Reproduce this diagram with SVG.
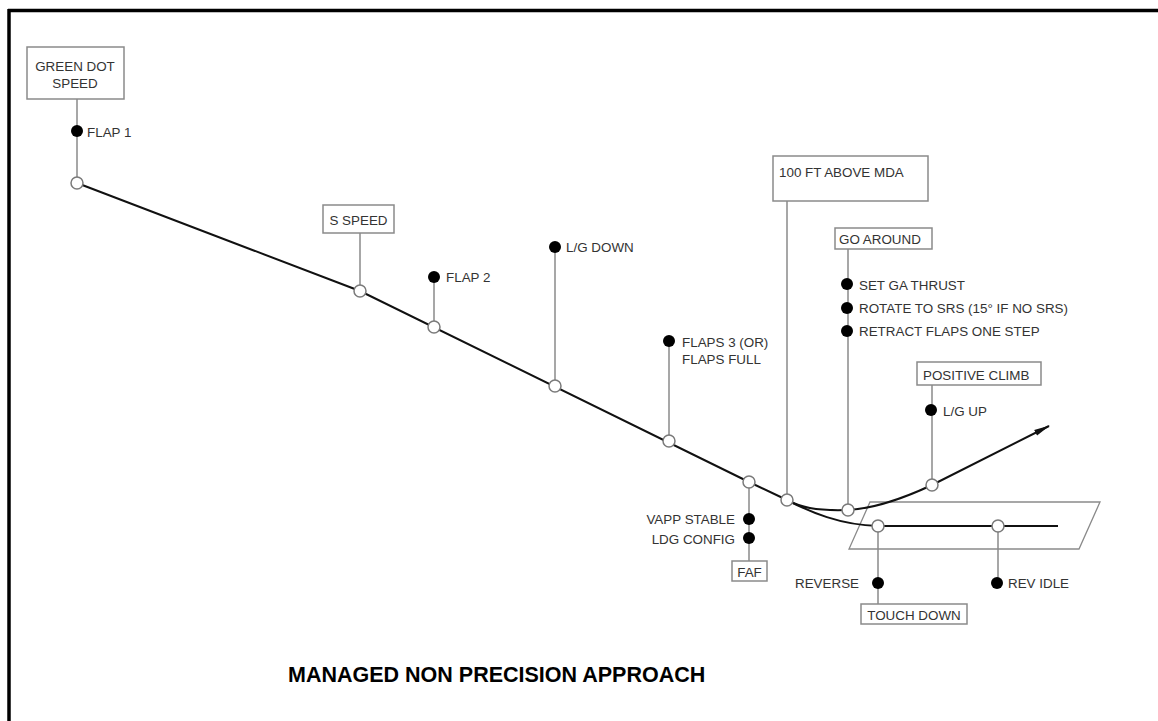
<svg xmlns="http://www.w3.org/2000/svg" width="1158" height="721" viewBox="0 0 1158 721">
<style>
  .t{font-family:"Liberation Sans",Arial,sans-serif;font-size:13.4px;fill:#333}
  .box{fill:#fff;stroke:#8a8a8a;stroke-width:1.5}
  .stem{stroke:#8a8a8a;stroke-width:1.5;fill:none}
  .dot{fill:#000}
  .node{fill:#fff;stroke:#7a7a7a;stroke-width:1.5}
  .path{stroke:#111;stroke-width:2;fill:none}
</style>
<defs>
  <marker id="arr" viewBox="0 0 16 8" refX="15" refY="4" markerWidth="16" markerHeight="8" markerUnits="userSpaceOnUse" orient="auto">
    <path d="M0,0.8 L16,4 L0,7.2 Z" fill="#111"/>
  </marker>
</defs>
<rect width="1158" height="721" fill="#fff"/>
<g id="frame">
  <line x1="8" y1="10.5" x2="1158" y2="10.5" stroke="#000" stroke-width="3.5"/>
  <line x1="9" y1="9" x2="9" y2="721" stroke="#000" stroke-width="3.5"/>
</g>
<g id="runway">
  <polygon points="870,502 1100,502 1079,549 849,549" fill="none" stroke="#8a8a8a" stroke-width="1.3"/>
</g>
<g id="connectors">
  <path class="path" d="M77,183 L360,291 L749,482 L787,500 C800,507 815,511 847,510 C870,509 900,500 932,485 L1049,426" marker-end="url(#arr)"/>
  <path class="path" d="M787,500 C810,512 840,525 878,526 L1058,526"/>
  <line class="stem" x1="77" y1="99" x2="77" y2="183"/>
  <line class="stem" x1="360" y1="233" x2="360" y2="291"/>
  <line class="stem" x1="434" y1="277" x2="434" y2="327"/>
  <line class="stem" x1="555" y1="247" x2="555" y2="386"/>
  <line class="stem" x1="669" y1="341" x2="669" y2="441"/>
  <line class="stem" x1="749" y1="482" x2="749" y2="561"/>
  <line class="stem" x1="787" y1="201" x2="787" y2="500"/>
  <line class="stem" x1="848" y1="249" x2="848" y2="510"/>
  <line class="stem" x1="932" y1="385" x2="932" y2="485"/>
  <line class="stem" x1="878" y1="526" x2="878" y2="604"/>
  <line class="stem" x1="998" y1="526" x2="998" y2="583"/>
</g>
<g id="green-dot">
  <rect class="box" x="27" y="47" width="97" height="52"/>
  <text class="t" x="75" y="70.5" text-anchor="middle">GREEN DOT</text>
  <text class="t" x="75" y="88" text-anchor="middle">SPEED</text>
  <circle class="dot" cx="77" cy="131" r="6"/>
  <text class="t" x="87" y="136.5">FLAP 1</text>
  <circle class="node" cx="77" cy="183" r="6"/>
</g>
<g id="s-speed">
  <rect class="box" x="323" y="205" width="71" height="28"/>
  <text class="t" x="358.5" y="224.5" text-anchor="middle">S SPEED</text>
  <circle class="node" cx="360" cy="291" r="6"/>
</g>
<g id="flap2">
  <circle class="dot" cx="434" cy="277" r="6"/>
  <text class="t" x="446" y="282">FLAP 2</text>
  <circle class="node" cx="434" cy="327" r="6"/>
</g>
<g id="lg-down">
  <circle class="dot" cx="555" cy="247" r="6"/>
  <text class="t" x="566" y="252">L/G DOWN</text>
  <circle class="node" cx="555" cy="386" r="6"/>
</g>
<g id="flaps3">
  <circle class="dot" cx="669" cy="341" r="6"/>
  <text class="t" x="682" y="347">FLAPS 3 (OR)</text>
  <text class="t" x="682" y="364">FLAPS FULL</text>
  <circle class="node" cx="669" cy="441" r="6"/>
</g>
<g id="faf">
  <circle class="node" cx="749" cy="482" r="6"/>
  <circle class="dot" cx="749" cy="519" r="6"/>
  <text class="t" x="735" y="524" text-anchor="end">VAPP STABLE</text>
  <circle class="dot" cx="749" cy="538" r="6"/>
  <text class="t" x="735" y="543.5" text-anchor="end">LDG CONFIG</text>
  <rect class="box" x="732" y="561" width="35" height="20"/>
  <text class="t" x="749.5" y="576.5" text-anchor="middle">FAF</text>
</g>
<g id="mda">
  <rect class="box" x="773" y="156" width="155" height="45"/>
  <text class="t" x="779" y="176.5">100 FT ABOVE MDA</text>
  <circle class="node" cx="787" cy="500" r="6"/>
</g>
<g id="go-around">
  <rect class="box" x="835" y="228" width="97" height="21"/>
  <text class="t" x="839" y="244">GO AROUND</text>
  <circle class="dot" cx="847" cy="284" r="6"/>
  <text class="t" x="859" y="290">SET GA THRUST</text>
  <circle class="dot" cx="847" cy="308" r="6"/>
  <text class="t" x="859" y="313">ROTATE TO SRS (15° IF NO SRS)</text>
  <circle class="dot" cx="847" cy="331" r="6"/>
  <text class="t" x="859" y="336">RETRACT FLAPS ONE STEP</text>
  <circle class="node" cx="848" cy="510" r="6"/>
</g>
<g id="positive-climb">
  <rect class="box" x="917" y="362" width="124" height="23"/>
  <text class="t" x="923" y="379.5">POSITIVE CLIMB</text>
  <circle class="dot" cx="931" cy="410" r="6"/>
  <text class="t" x="943" y="416">L/G UP</text>
  <circle class="node" cx="932" cy="485" r="6"/>
</g>
<g id="touch-down">
  <circle class="node" cx="878" cy="526" r="6"/>
  <circle class="dot" cx="878" cy="583" r="6"/>
  <text class="t" x="859" y="588" text-anchor="end">REVERSE</text>
  <rect class="box" x="861" y="604" width="106" height="20"/>
  <text class="t" x="914" y="619.5" text-anchor="middle">TOUCH DOWN</text>
</g>
<g id="rev-idle">
  <circle class="node" cx="998" cy="526" r="6"/>
  <circle class="dot" cx="997" cy="583" r="6"/>
  <text class="t" x="1008" y="588">REV IDLE</text>
</g>
<g id="title">
  <text x="288" y="682" font-family="Liberation Sans,Arial,sans-serif" font-weight="bold" font-size="21.5" fill="#000">MANAGED NON PRECISION APPROACH</text>
</g>
</svg>
